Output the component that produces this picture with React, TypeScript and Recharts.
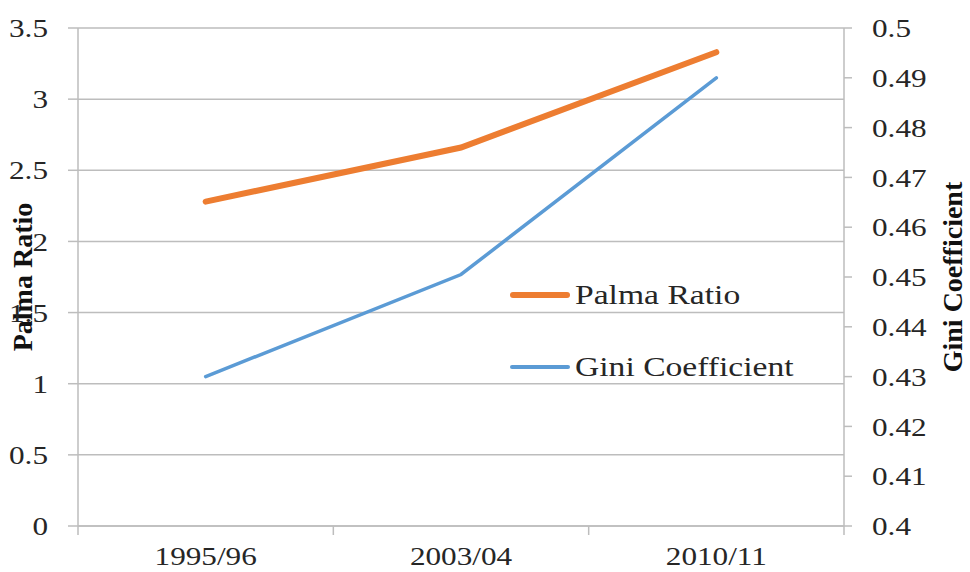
import { CartesianGrid, Legend, Line, LineChart, XAxis, YAxis } from 'recharts';

// values
const years = ['1995/96', '2003/04', '2010/11'];
const palmaRatio = [2.28, 2.66, 3.33];
const giniCoefficient = [0.43, 0.4505, 0.49];

const palmaTicks = [0, 0.5, 1, 1.5, 2, 2.5, 3, 3.5];
const giniTicks = [0.4, 0.41, 0.42, 0.43, 0.44, 0.45, 0.46, 0.47, 0.48, 0.49, 0.5];
const legendOrder = ['Palma Ratio', 'Gini Coefficient'];

const data = years.map((year, i) => ({
  year,
  palma: palmaRatio[i],
  gini: giniCoefficient[i],
}));

const W = 970;
const H = 572;
const LEFT_W = 78;
const RIGHT_W = 126;
const TOP = 28;
const X_H = 46;

const FONT = '"Liberation Serif", "Times New Roman", serif';
const INK = '#262626';
const GRID = '#bdbdbd';
const ORANGE = '#ED7D31';
const BLUE = '#5B9BD5';
const STRETCH = 1.2; // reference text is a bit wider than the font

function YTick(props: any) {
  const { x, y, payload, textAnchor } = props;
  return (
    <g transform={`translate(${x},${y}) scale(${STRETCH},1)`}>
      <text textAnchor={textAnchor} dy="0.35em" fontFamily={FONT} fontSize={26} fill={INK}>
        {String(payload.value)}
      </text>
    </g>
  );
}

// category ticks sit on the band edges, labels at band centres (Excel style)
function XTick(props: any) {
  const { x, y, payload, index, visibleTicksCount } = props;
  const half = payload.offset || (W - LEFT_W - RIGHT_W) / years.length / 2;
  const last = index === (visibleTicksCount ?? years.length) - 1;
  return (
    <g>
      <line x1={x - half} x2={x - half} y1={y} y2={y + 9} stroke={GRID} strokeWidth={1.5} />
      {last ? <line x1={x + half} x2={x + half} y1={y} y2={y + 9} stroke={GRID} strokeWidth={1.5} /> : null}
      <g transform={`translate(${x},${y + 39}) scale(${STRETCH},1)`}>
        <text textAnchor="middle" fontFamily={FONT} fontSize={26} fill={INK}>
          {payload.value}
        </text>
      </g>
    </g>
  );
}

function AxisTitle({ viewBox, value, side }: any) {
  if (!viewBox) return null;
  const cx = side === 'left' ? 22 : viewBox.x + viewBox.width - 18;
  const cy = TOP + (H - TOP - X_H) / 2;
  return (
    <text
      x={cx}
      y={cy}
      transform={`rotate(-90, ${cx}, ${cy})`}
      textAnchor="middle"
      dominantBaseline="central"
      fontFamily={FONT}
      fontWeight="bold"
      fontSize={28}
      fill="#111"
    >
      {value}
    </text>
  );
}

function LegendBox({ payload }: any) {
  const items = [...(payload ?? [])].sort(
    (a: any, b: any) => legendOrder.indexOf(a.value) - legendOrder.indexOf(b.value),
  );
  return (
    <div style={{ fontFamily: FONT }}>
      {items.map((entry: any) => (
        <div key={entry.value} style={{ display: 'flex', alignItems: 'center', height: 72 }}>
          <span
            style={{
              display: 'inline-block',
              width: 60,
              height: entry.payload?.strokeWidth ?? 4,
              borderRadius: 3,
              background: entry.color,
              marginRight: 5,
            }}
          />
          <span
            style={{
              display: 'inline-block',
              fontSize: 28,
              color: INK,
              whiteSpace: 'nowrap',
              transform: `scaleX(${STRETCH})`,
              transformOrigin: 'left center',
            }}
          >
            {entry.value}
          </span>
        </div>
      ))}
    </div>
  );
}

export default function App() {
  return (
    <div style={{ position: 'absolute', left: 0, top: 0, width: W, height: H, background: '#fff' }}>
      <LineChart width={W} height={H} data={data} margin={{ top: TOP, right: 0, bottom: 0, left: 0 }}>
        <CartesianGrid yAxisId="left" vertical={false} stroke={GRID} strokeWidth={1.5} />
        <XAxis
          dataKey="year"
          scale="band"
          height={X_H}
          axisLine={{ stroke: GRID, strokeWidth: 1.5 }}
          tickLine={false}
          tickSize={0}
          tickMargin={0}
          tick={<XTick />}
          interval={0}
        />
        <YAxis
          yAxisId="left"
          width={LEFT_W}
          domain={[0, 3.5]}
          ticks={palmaTicks}
          interval={0}
          axisLine={{ stroke: GRID, strokeWidth: 1.5 }}
          tickLine={{ stroke: GRID, strokeWidth: 1.5 }}
          tickSize={10}
          tickMargin={20}
          tick={<YTick />}
          label={<AxisTitle value="Palma Ratio" side="left" />}
        />
        <YAxis
          yAxisId="right"
          orientation="right"
          width={RIGHT_W}
          domain={[0.4, 0.5]}
          ticks={giniTicks}
          interval={0}
          axisLine={{ stroke: GRID, strokeWidth: 1.5 }}
          tickLine={{ stroke: GRID, strokeWidth: 1.5 }}
          tickSize={8}
          tickMargin={20}
          tick={<YTick />}
          label={<AxisTitle value="Gini Coefficient" side="right" />}
        />
        <Legend
          layout="vertical"
          align="center"
          verticalAlign="middle"
          content={<LegendBox />}
          wrapperStyle={{ left: 510, top: 259, width: 320, height: 144 }}
        />
        <Line
          yAxisId="left"
          dataKey="palma"
          name="Palma Ratio"
          stroke={ORANGE}
          strokeWidth={6}
          strokeLinecap="round"
          dot={false}
          isAnimationActive={false}
        />
        <Line
          yAxisId="right"
          dataKey="gini"
          name="Gini Coefficient"
          stroke={BLUE}
          strokeWidth={3.5}
          strokeLinecap="round"
          dot={false}
          isAnimationActive={false}
        />
      </LineChart>
    </div>
  );
}
